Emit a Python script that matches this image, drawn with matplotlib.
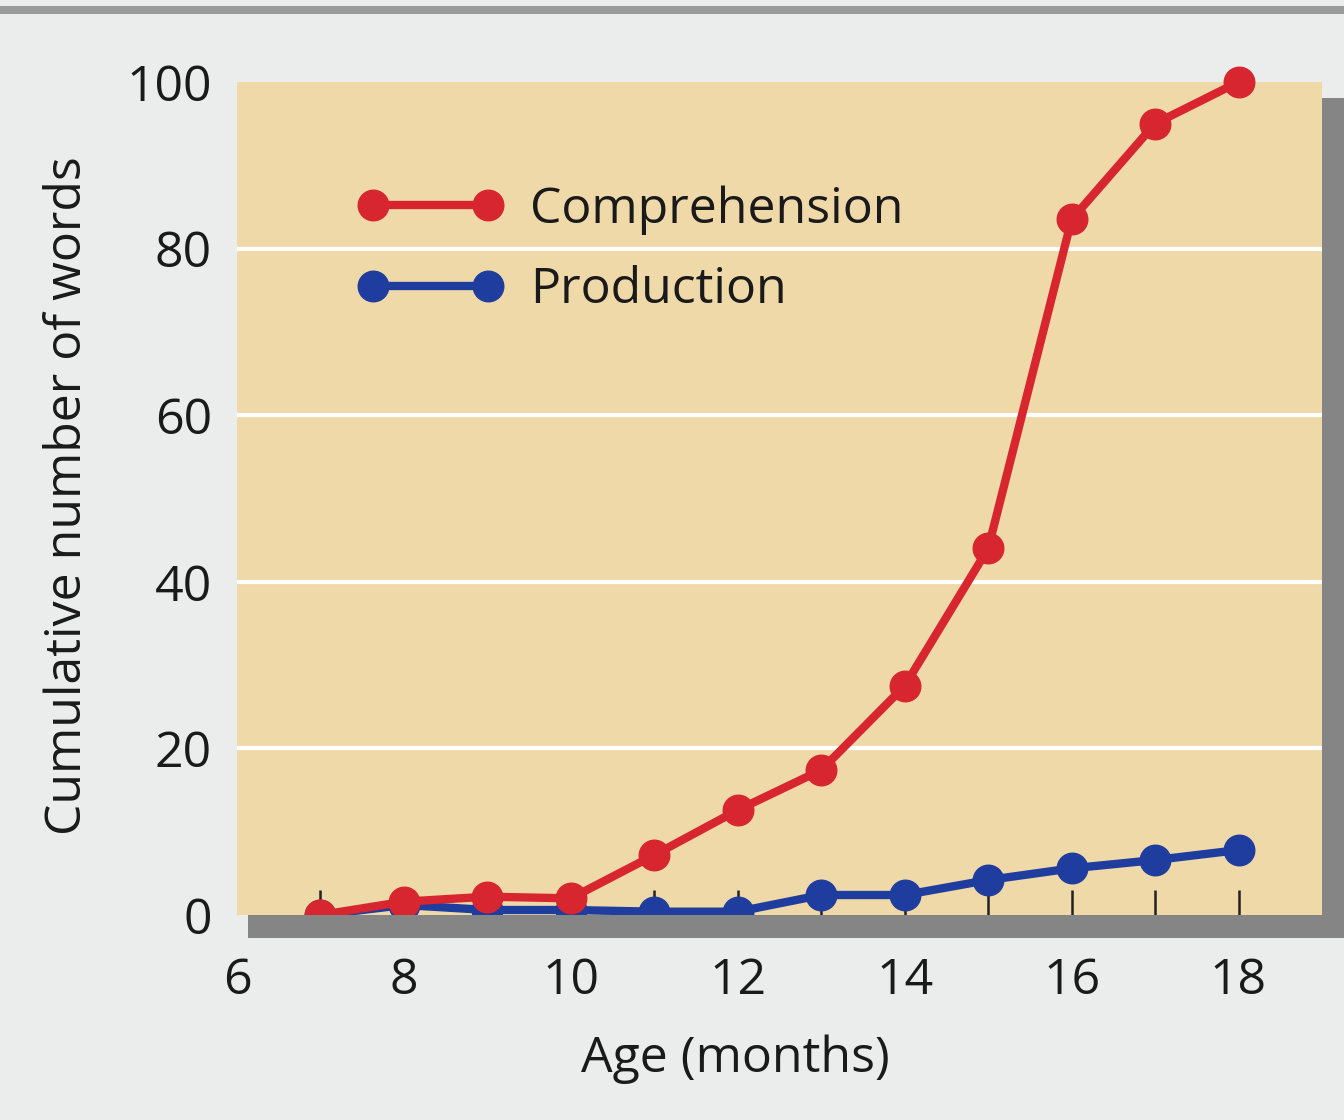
import matplotlib
matplotlib.use("Agg")
import matplotlib.pyplot as plt
from matplotlib.patches import Rectangle

plt.rcParams['font.family'] = ['Open Sans', 'DejaVu Sans']

ages = [7, 8, 9, 10, 11, 12, 13, 14, 15, 16, 17, 18]
comprehension = [0, 1.6, 2.2, 2.0, 7.2, 12.6, 17.4, 27.5, 44, 83.5, 95, 100]
production = [0, 1.2, 0.6, 0.6, 0.4, 0.4, 2.4, 2.4, 4.2, 5.6, 6.6, 7.8]
x_ticks = [6, 8, 10, 12, 14, 16, 18]
y_ticks = [0, 20, 40, 60, 80, 100]
series_labels = ["Comprehension", "Production"]

W, H = 1344, 1120
fig = plt.figure(figsize=(13.44, 11.2), dpi=100)
fig.patch.set_facecolor('#ebedec')

def fr(x0, y0, x1, y1, **kw):
    # pixel box (top-left origin) to figure fraction rectangle
    fig.patches.append(Rectangle((x0 / W, 1 - y1 / H), (x1 - x0) / W, (y1 - y0) / H,
                                 transform=fig.transFigure, zorder=0, **kw))

# top rule of the scanned page
fr(0, 6, W, 14, facecolor='#9a9a9a', edgecolor='none')
# drop shadow
fr(248, 915, W, 938, facecolor='#858585', edgecolor='none')
fr(1322, 98, W, 938, facecolor='#858585', edgecolor='none')

left, right, top, bottom = 237, 1322, 82, 915
ax = fig.add_axes([left / W, 1 - bottom / H, (right - left) / W, (bottom - top) / H])
ax.set_facecolor('#efd9a8')
ax.set_xlim(6, 19)
ax.set_ylim(0, 100)
for s in ax.spines.values():
    s.set_visible(False)

for yv in y_ticks[1:-1]:
    ax.axhline(yv, color='white', lw=3, zorder=1)

ax.plot(ages, production, color='#1f3d9e', lw=6, marker='o', ms=22,
        solid_capstyle='round', zorder=3, clip_on=False, label=series_labels[1])
ax.plot(ages, comprehension, color='#d7262f', lw=6, marker='o', ms=22,
        solid_capstyle='round', zorder=4, clip_on=False, label=series_labels[0])

ax.xaxis.remove_overlapping_locs = False
ax.set_xticks(ages, minor=True)
ax.set_xticks(x_ticks)
ax.set_xticklabels([str(v) for v in x_ticks])
ax.tick_params(axis='x', which='minor', direction='in', length=18, width=1.8,
               color='#222222')
ax.tick_params(axis='x', which='major', direction='in', length=0,
               pad=30, labelsize=36)
ax.set_yticks(y_ticks)
ax.tick_params(axis='y', length=0, pad=18, labelsize=36)
for lab in ax.get_xticklabels() + ax.get_yticklabels():
    lab.set_color('#1a1a1a')

ax.set_xlabel("Age (months)", fontsize=36, color='#1a1a1a')
ax.xaxis.set_label_coords(0.459, -0.143)
ax.set_ylabel("Cumulative number of words", fontsize=36, color='#1a1a1a')
ax.yaxis.set_label_coords(-0.133, 0.504)

h, l = ax.get_legend_handles_labels()
leg = ax.legend(h[::-1], l[::-1], loc='upper left', bbox_to_anchor=(0.07, 0.93),
                frameon=False, fontsize=36, numpoints=2, handlelength=2.9,
                handletextpad=0.55, labelspacing=0.62)
for t in leg.get_texts():
    t.set_color('#1a1a1a')

fig.savefig("out.png", dpi=100, facecolor=fig.get_facecolor())
